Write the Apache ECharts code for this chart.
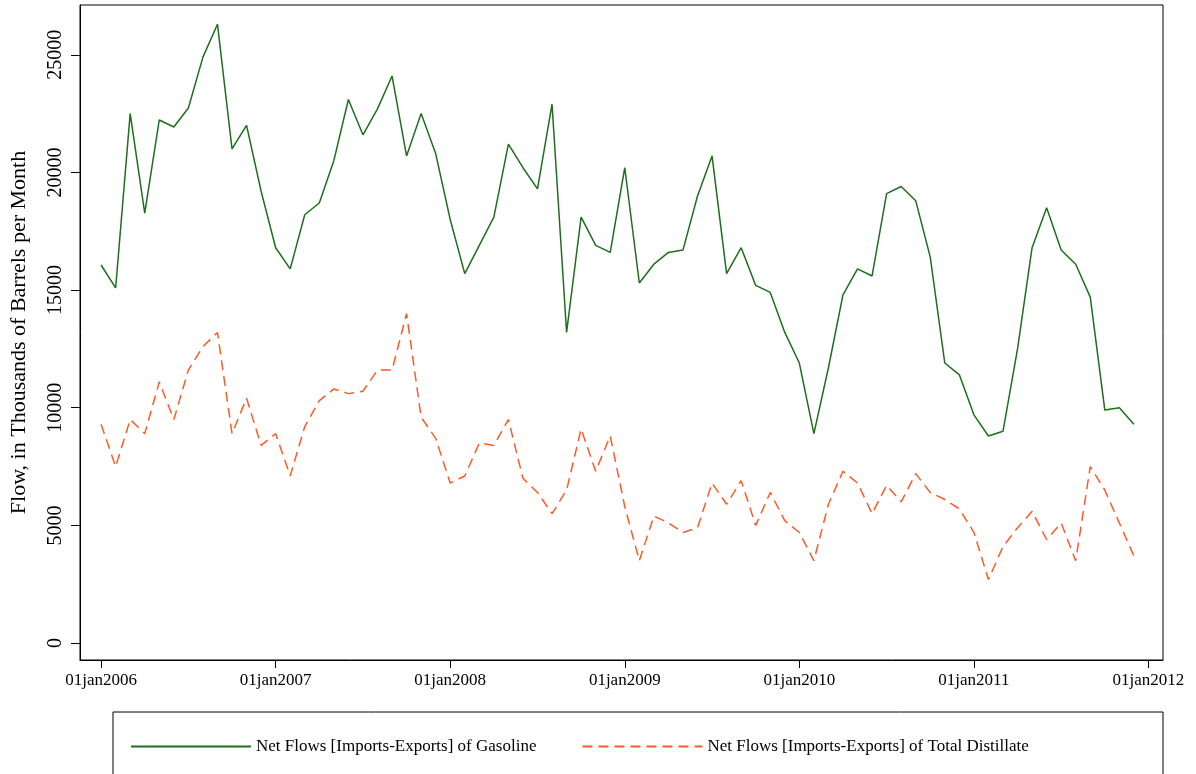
<!DOCTYPE html>
<html><head><meta charset="utf-8">
<script src="https://cdn.jsdelivr.net/npm/echarts@6/dist/echarts.min.js"></script>
<style>html,body{margin:0;background:#fff}#c{width:1196px;height:774px}</style>
</head><body><div id="c"></div>
<script>
// monthly values Jan 2006 .. Dec 2011
var gasoline = [16065,15090,22500,18275,22230,21930,22740,24900,26300,21000,22000,19200,
  16800,15900,18200,18700,20500,23100,21600,22700,24100,20700,22500,20800,
  18000,15700,16900,18100,21200,20200,19300,22900,13200,18100,16900,16600,
  20200,15300,16100,16600,16700,19000,20700,15700,16800,15200,14900,13200,
  11900,8900,11700,14800,15900,15600,19100,19400,18800,16400,11900,11400,
  9700,8800,9000,12500,16800,18500,16700,16100,14700,9900,10000,9300];
var distillate = [9300,7500,9500,8900,11100,9500,11600,12600,13200,8900,10400,8400,
  8900,7100,9200,10300,10800,10600,10700,11600,11600,14000,9600,8700,
  6800,7100,8500,8400,9500,7000,6400,5500,6500,9100,7300,8800,
  5800,3500,5400,5100,4700,4900,6800,5900,6900,5000,6400,5200,
  4700,3500,5900,7300,6800,5500,6700,6000,7200,6400,6100,5700,
  4700,2700,4100,4900,5600,4400,5100,3500,7500,6500,5100,3700];
var yearTicks = [0,12,24,36,48,60,72];
var yearLabels = ['01jan2006','01jan2007','01jan2008','01jan2009','01jan2010','01jan2011','01jan2012'];
var yTicks = [0,5000,10000,15000,20000,25000];

function pts(arr){ return arr.map(function(v,i){ return [i,v]; }); }
var font = 'Liberation Serif';
var chart = echarts.init(document.getElementById('c'));
chart.setOption({
  animation:false,
  textStyle:{fontFamily:font},
  grid:{left:80,right:33,top:5,bottom:114,containLabel:false,outerBoundsMode:'none',
    show:true,borderColor:'#000',borderWidth:1},
  xAxis:{type:'value',min:-1.45,max:73,
    axisLine:{onZero:false,lineStyle:{color:'#000'}},splitLine:{show:false},
    axisTick:{customValues:yearTicks,length:8,lineStyle:{color:'#000'}},
    axisLabel:{customValues:yearTicks,color:'#000',fontSize:17,fontFamily:font,margin:12,
      formatter:function(v){return yearLabels[yearTicks.indexOf(v)];}}},
  yAxis:{type:'value',min:-720,max:27115,
    name:'Flow, in Thousands of Barrels per Month',nameLocation:'middle',nameGap:50,
    nameTextStyle:{color:'#000',fontSize:22,fontFamily:font},
    axisLine:{show:true,onZero:false,lineStyle:{color:'#000'}},splitLine:{show:false},
    axisTick:{show:true,customValues:yTicks,length:9,lineStyle:{color:'#000'}},
    axisLabel:{customValues:yTicks,rotate:90,color:'#000',fontSize:20,fontFamily:font,margin:14,
      formatter:function(v){return String(v);}}},
  legend:{top:733,left:125,itemWidth:120,itemHeight:10,itemGap:45,
    itemStyle:{opacity:0},
    textStyle:{color:'#000',fontSize:17,fontFamily:font},
    data:['Net Flows [Imports-Exports] of Gasoline','Net Flows [Imports-Exports] of Total Distillate']},
  graphic:[{type:'rect',shape:{x:113,y:712,width:1050,height:70},style:{fill:'none',stroke:'#000',lineWidth:1}}],
  series:[
    {name:'Net Flows [Imports-Exports] of Gasoline',type:'line',data:pts(gasoline),symbol:'none',
      itemStyle:{color:'#1e6e1e'},lineStyle:{color:'#1e6e1e',width:1.5}},
    {name:'Net Flows [Imports-Exports] of Total Distillate',type:'line',data:pts(distillate),symbol:'none',
      itemStyle:{color:'#ff5a26'},lineStyle:{color:'#ff5a26',width:1.5,type:[10,6]}}
  ]
});
</script></body></html>
